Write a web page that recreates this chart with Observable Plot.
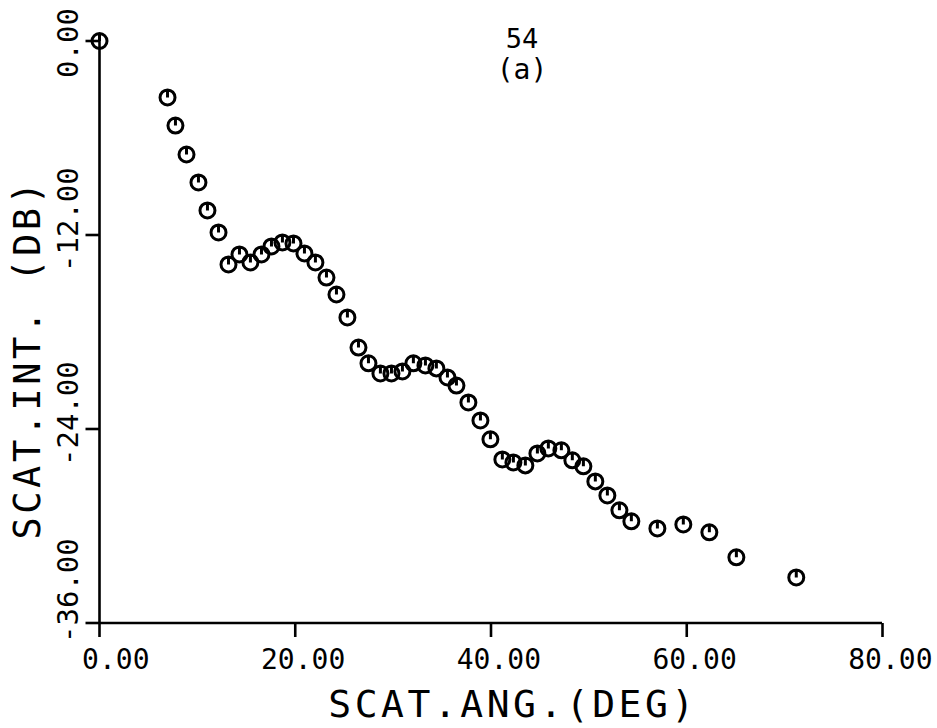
<!DOCTYPE html>
<html>
<head>
<meta charset="utf-8">
<script src="https://cdn.jsdelivr.net/npm/d3@7"></script>
<script src="https://cdn.jsdelivr.net/npm/@observablehq/plot@0.6"></script>
<style>
  html, body { margin: 0; padding: 0; background: #ffffff; }
  #chart svg { display: block; }
</style>
</head>
<body>
<div id="chart"></div>
<script>
// ---- data ----
const angles = [0, 6.95, 7.76, 8.89, 10.11, 11.03, 12.16, 13.18, 14.30, 15.42, 16.55, 17.57, 18.69, 19.82,
  20.94, 22.06, 23.19, 24.21, 25.33, 26.46, 27.48, 28.70, 29.83, 30.95, 32.07, 33.30, 34.42, 35.55, 36.47,
  37.69, 38.92, 39.94, 41.16, 42.29, 43.51, 44.74, 45.86, 47.19, 48.31, 49.44, 50.66, 51.89, 53.12, 54.34,
  57.0, 59.65, 62.31, 65.07, 71.19];
const intensities = [0, -3.49, -5.23, -7.02, -8.75, -10.48, -11.84, -13.82, -13.20, -13.70, -13.20, -12.71,
  -12.46, -12.52, -13.14, -13.70, -14.63, -15.68, -17.10, -18.96, -19.94, -20.56, -20.56, -20.44, -19.94,
  -20.07, -20.25, -20.81, -21.31, -22.36, -23.47, -24.64, -25.88, -26.07, -26.25, -25.51, -25.20, -25.32,
  -25.94, -26.31, -27.24, -28.11, -29.03, -29.71, -30.15, -29.90, -30.39, -31.94, -33.18];
const xTicks = [0, 20, 40, 60, 80];
const xTickLabels = ["0.00", "20.00", "40.00", "60.00", "80.00"];
const yTicks = [0, -12, -24, -36];
const yTickLabels = ["0.00", "-12.00", "-24.00", "-36.00"];
const xTitle = "SCAT.ANG.(DEG)";
const yTitle = "SCAT.INT. (DB)";
const figureNumber = "54";
const panelLabel = "(a)";

// ---- derived tables ----
const points = angles.map((a, i) => ({angle: a, db: intensities[i]}));
const xLabelRows = xTicks.map((v, i) => ({v, label: xTickLabels[i]}));
const yLabelRows = yTicks.map((v, i) => ({v, label: yTickLabels[i]}));

// circle with a short vertical stroke from its top to its centre
const tickedCircle = {
  draw(context, size) {
    const r = Math.sqrt(size / Math.PI);
    context.moveTo(r, 0);
    context.arc(0, 0, r, 0, 2 * Math.PI);
    context.moveTo(0, -r);
    context.lineTo(0, 0);
  }
};
const TICK = 14;
const tickDown = { draw(context) { context.moveTo(0, 0); context.lineTo(0, TICK); } };
const tickLeft = { draw(context) { context.moveTo(0, 0); context.lineTo(-TICK, 0); } };

const FONT = "DejaVu Sans Mono";
const INK = "#000";

const chart = Plot.plot({
  width: 937,
  height: 728,
  marginLeft: 99,
  marginRight: 55,
  marginTop: 40.5,
  marginBottom: 105.5,
  style: {background: "#ffffff", color: INK, fontFamily: FONT},
  x: {domain: [0, 80], axis: null},
  y: {domain: [-36, 0], axis: null},
  marks: [
    // axis lines
    Plot.ruleX([0], {y1: -36, y2: 0, stroke: INK, strokeWidth: 2.6}),
    Plot.ruleY([-36], {x1: 0, x2: 80, stroke: INK, strokeWidth: 2.6}),
    // tick marks
    Plot.dot(xTicks, {x: d => d, y: -36, symbol: tickDown, r: 5, stroke: INK, strokeWidth: 2.6, fill: "none"}),
    Plot.dot(yTicks, {x: 0, y: d => d, symbol: tickLeft, r: 5, stroke: INK, strokeWidth: 2.6, fill: "none"}),
    // tick labels
    Plot.text(xLabelRows, {x: "v", y: -36, text: "label", textAnchor: "end", lineAnchor: "bottom",
      dx: 50, dy: 45.5, fontSize: 28, fontFamily: FONT, fill: INK}),
    Plot.text(yLabelRows, {filter: d => d.v > -36, x: 0, y: "v", text: "label", rotate: -90,
      textAnchor: "start", lineAnchor: "middle", dx: -31, dy: 37, fontSize: 29, fontFamily: FONT, fill: INK}),
    Plot.text(yLabelRows, {filter: d => d.v === -36, x: 0, y: "v", text: "label", rotate: -90,
      textAnchor: "start", lineAnchor: "middle", dx: -31, dy: 20, fontSize: 29, fontFamily: FONT, fill: INK}),
    // axis titles
    Plot.text([xTitle], {frameAnchor: "bottom", text: d => d, textAnchor: "middle", lineAnchor: "bottom",
      dx: 22, dy: 94, fontSize: 38, fontFamily: FONT, fill: INK}),
    Plot.text([yTitle], {frameAnchor: "left", text: d => d, rotate: -90, textAnchor: "middle",
      lineAnchor: "middle", dx: -71, dy: 27, fontSize: 37, fontFamily: FONT, fill: INK}),
    // figure / panel labels
    Plot.text([figureNumber], {frameAnchor: "top", text: d => d, textAnchor: "middle", lineAnchor: "bottom",
      dx: 31, dy: 6.5, fontSize: 27, fontFamily: FONT, fill: INK}),
    Plot.text([panelLabel], {frameAnchor: "top", text: d => d, textAnchor: "middle", lineAnchor: "bottom",
      dx: 31, dy: 38, fontSize: 28, fontFamily: FONT, fill: INK}),
    // data
    Plot.dot(points, {x: "angle", y: "db", symbol: tickedCircle, r: 7.5, stroke: INK, strokeWidth: 3, fill: "none"})
  ]
});

d3.select(chart).selectAll("text")
  .filter(function () { return this.textContent === xTitle || this.textContent === yTitle; })
  .attr("letter-spacing", "3.5px");

document.getElementById("chart").appendChild(chart);
</script>
</body>
</html>
